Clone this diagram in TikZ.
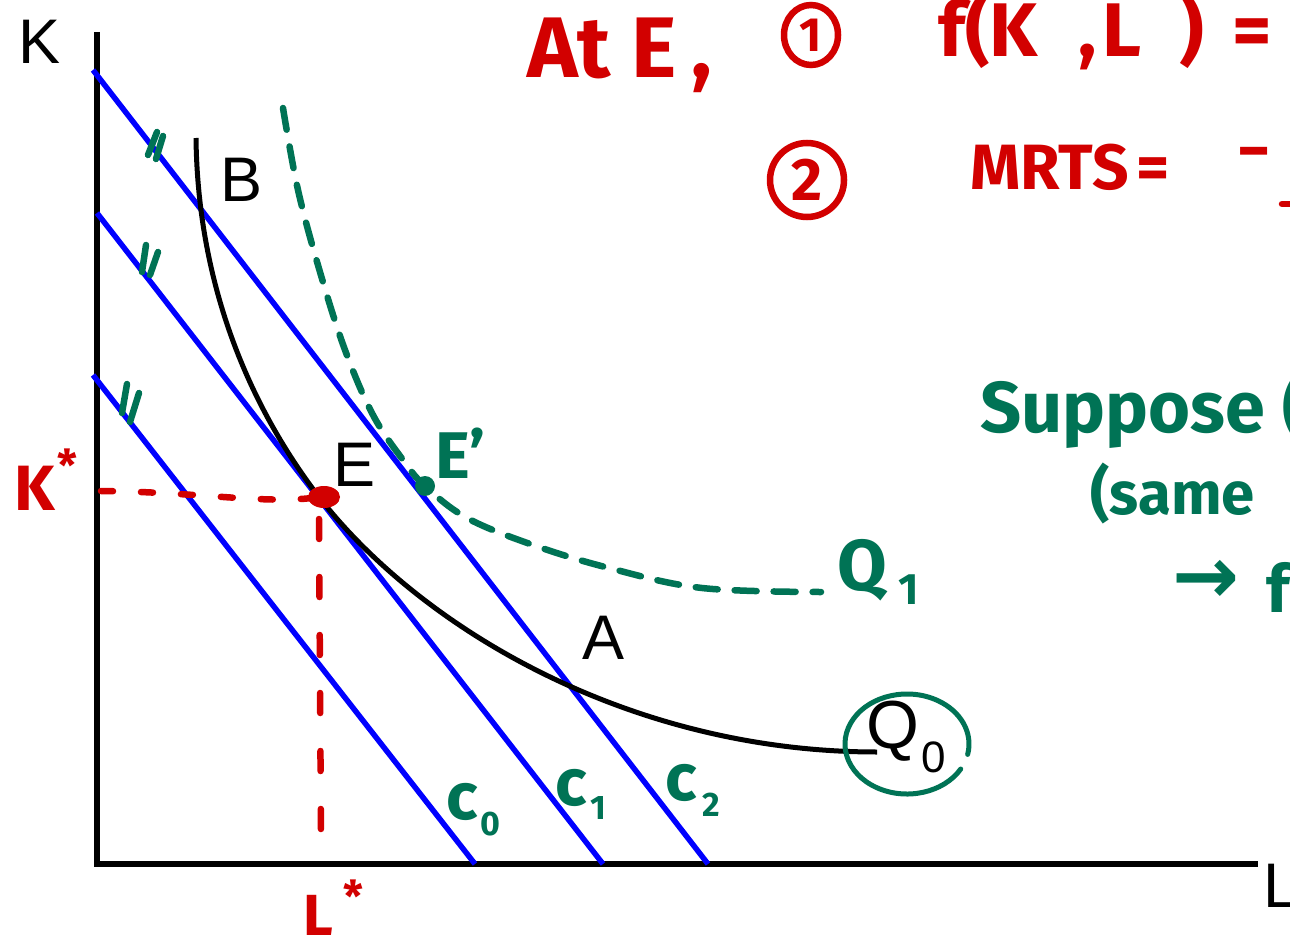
\documentclass[tikz,border=0pt]{standalone}
\usepackage{fontspec}
\setmainfont{Liberation Sans}
\newfontfamily\hand{Fira Sans}
\newfontfamily\arrowfont{DejaVu Sans}
\definecolor{pred}{RGB}{210,0,0}
\definecolor{pgreen}{RGB}{0,115,85}
\definecolor{pblue}{RGB}{0,0,255}
\tikzset{
  axis/.style={line width=6pt},
  cost/.style={pblue, line width=5.5pt},
  isoq/.style={line width=5pt},
  gpen/.style={pgreen, line width=6.5pt, line cap=round},
  rpen/.style={pred, line width=6.5pt, line cap=round},
  lab/.style={inner sep=0pt, font=\fontsize{63}{63}\selectfont},
  sublab/.style={inner sep=0pt, font=\fontsize{44}{44}\selectfont},
  rtxt/.style={inner sep=0pt, text=pred, font=\hand\bfseries\fontsize{#1}{#1}\selectfont},
  gtxt/.style={inner sep=0pt, text=pgreen, font=\hand\bfseries\fontsize{#1}{#1}\selectfont},
}
\begin{document}
\begin{tikzpicture}[x=1pt,y=-1pt]
\useasboundingbox (0,0) rectangle (1290,941);
\clip (0,0) rectangle (1290,941);
\fill[white] (0,0) rectangle (1290,941);

% axes
\coordinate (Ktop) at (97,32);
\coordinate (O) at (97,864);
\coordinate (Lend) at (1258,864);
\draw[axis] (Ktop) -- (O) -- (Lend);
\node[lab] (Klab) at (40,42) {K};
\node[lab] (Llab) at (1281,886) {L};

% isocost lines
\coordinate (c2a) at (93,70);  \coordinate (c2b) at (708,864);
\coordinate (c1a) at (97,213); \coordinate (c1b) at (603,864);
\coordinate (c0a) at (93,375); \coordinate (c0b) at (475,864);
\draw[cost] (c2a) -- (c2b);
\draw[cost] (c1a) -- (c1b);
\draw[cost] (c0a) -- (c0b);

% isoquant Q0
\coordinate (Q0start) at (196,138);
\coordinate (E) at (319,497);
\coordinate (Q0end) at (877,752);
\draw[isoq] (Q0start) .. controls (198,300) and (260,420) .. (E)
            .. controls (419,626) and (627,752) .. (Q0end);

% labels
\node[lab] (Blab) at (242,180) {B};
\node[lab] (Elab) at (355,465) {E};
\node[lab] (Alab) at (604,638) {A};
\node[lab, font=\fontsize{68}{68}\selectfont] (Q0) at (893,731) {Q};
\node[sublab] (Q0sub) at (934,757) {0};
\draw[gpen, line width=5pt] (907,744) ++(30:62 and 50) arc[start angle=30, end angle=372, x radius=62, y radius=50];

% Q1 dashed
\coordinate (Ep) at (425,486);
\draw[gpen, dash pattern=on 22pt off 17pt] plot[smooth, tension=0.6] coordinates {(283,108) (298,190) (320,272) (345,350) (373,415) (403,460) (425,486) (467,518) (533,545) (609,568) (702,588) (821,592)};
\fill[pgreen] (Ep) circle[radius=10];
\node[gtxt=66, anchor=base west] (Eplab) at (435,478) {E’};
\node[gtxt=72] (Q1) at (862,570) {Q};
\node[gtxt=44] (Q1sub) at (909,590) {1};

% tick marks
\draw[gpen] (148,155) -- (157,132);
\draw[gpen] (156,159) -- (163,136);
\draw[gpen] (142,272) -- (146,245);
\draw[gpen] (150,275) -- (158,252);
\draw[gpen] (122,413) -- (127,384);
\draw[gpen] (130,422) -- (139,393);

% cost labels
\node[gtxt=66] (c0lab) at (462,802) {c};
\node[gtxt=34] (c0sub) at (490,824) {0};
\node[gtxt=66] (c1lab) at (571,788) {c};
\node[gtxt=34] (c1sub) at (598,808) {1};
\node[gtxt=66] (c2lab) at (681,783) {c};
\node[gtxt=34] (c2sub) at (711,805) {2};

% K*, L*
\coordinate (Kst) at (101,491);
\coordinate (Lst) at (321,840);
\draw[rpen, dash pattern=on 12pt off 28pt] (Kst) .. controls (200,492) and (270,505) .. (E);
\draw[rpen, dash pattern=on 20pt off 38pt] (E) ++(0,22) -- (Lst);
\fill[pred] (E) ++(5,0) ellipse[x radius=16, y radius=11];
\node[rtxt=64, anchor=base west] (Klabr) at (14,510) {K};
\node[rtxt=44] (Kstar) at (67,465) {*};
\node[rtxt=58, anchor=base west] (Llabr) at (303,935) {L};
\node[rtxt=44] (Lstar) at (353,896) {*};

% red notes
\node[rtxt=86, anchor=base west] (AtE) at (527,78) {At E\,,};
\node[rtxt=48] (one) at (811,35) {1};
\draw[rpen] (one) ellipse[x radius=27, y radius=30];
\node[rtxt=76, anchor=base west] (fKL) at (938,57) {f(K\raisebox{0.55em}{*}\hspace{6pt},\hspace{6pt}L\raisebox{0.55em}{*}\hspace{4pt}) \hspace{10pt}=};
\node[rtxt=60] (two) at (807,180) {2};
\draw[rpen] (two) ellipse[x radius=37, y radius=37];
\node[rtxt=64, anchor=base west] (MRTS) at (970,190) {MRTS\hspace{8pt}=};
\node[rtxt=64] (minus) at (1254,160) {−};
\draw[rpen] (1282,204) -- (1292,204);

% green notes
\node[gtxt=72, anchor=base west] (sup) at (980,432) {Suppose (};
\node[gtxt=60, anchor=base west] (same) at (1090,514) {(same};
\node[inner sep=0pt, text=pgreen, font=\arrowfont\bfseries\fontsize{80}{80}\selectfont] (arr) at (1206,582) {→};
\node[gtxt=66, anchor=base west] (fnext) at (1266,612) {f};
\end{tikzpicture}
\end{document}
